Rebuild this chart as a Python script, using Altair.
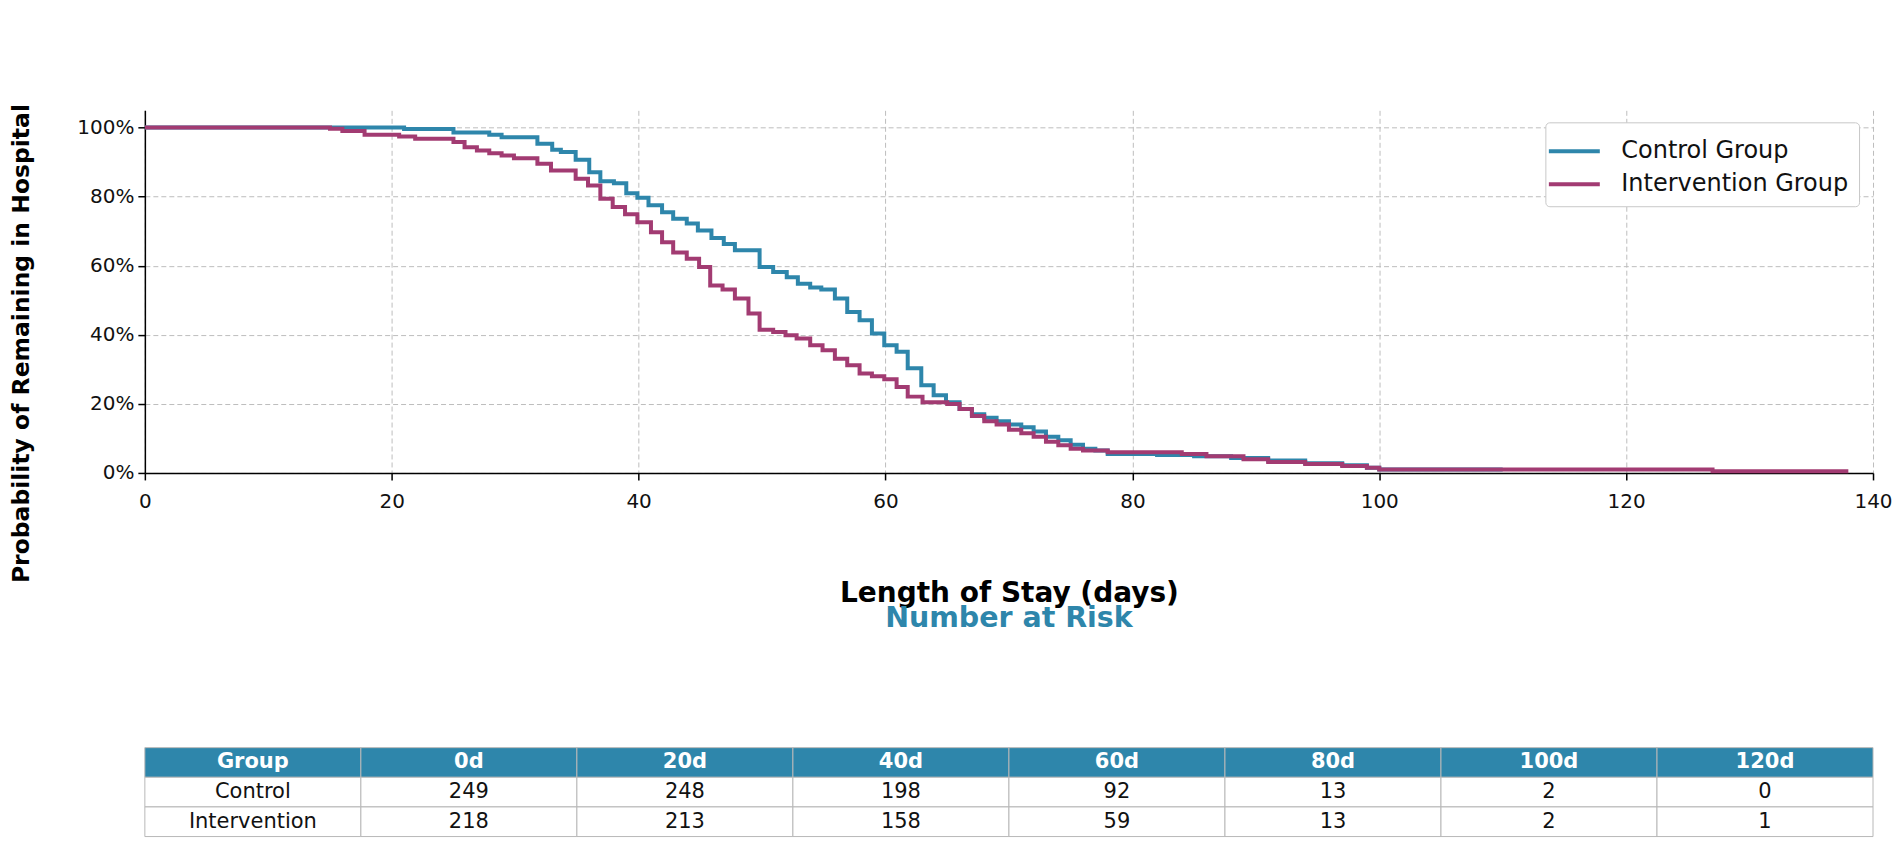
import altair as alt
import pandas as pd

BLUE = "#2E86AB"
MAG = "#A23B72"
FONT = "DejaVu Sans"

# Kaplan-Meier style step data (day, % remaining)
ctrl_days = [0, 21, 25, 27.9, 28.9, 31.8, 33, 33.7, 34.9, 36, 36.9, 38, 39, 39.9, 40.8, 41.9, 42.8, 43.9,
             44.8, 45.9, 46.9, 47.8, 49.8, 50.9, 52, 52.9, 53.9, 54.8, 55.9, 56.9, 57.9, 58.9, 59.9, 60.9,
             61.8, 62.9, 63.9, 64.9, 66, 67, 68, 69, 70, 71, 72, 73, 74, 75, 76, 77, 78, 82, 85, 88, 91,
             94, 97, 99, 100, 110]
ctrl_surv = [100, 99.6, 98.6, 97.9, 97.2, 95.3, 93.6, 92.9, 90.7, 87.1, 84.5, 83.9, 81.0, 79.7, 77.5, 75.5,
             73.6, 72.2, 70.2, 68.0, 66.3, 64.5, 59.6, 58.2, 56.7, 54.8, 53.7, 53.1, 50.5, 46.6, 44.2, 40.4,
             37.0, 35.1, 30.3, 25.4, 22.5, 20.5, 18.5, 17.0, 16.0, 15.0, 14.0, 13.2, 12.0, 10.5, 9.5, 8.2,
             7.0, 6.5, 5.5, 5.2, 4.8, 4.3, 3.6, 2.8, 2.2, 1.5, 1.0, 1.0]

int_days = [0, 15, 16, 17.8, 20.6, 21.9, 25, 25.9, 26.9, 27.9, 28.9, 29.9, 31.8, 32.9, 34.9, 35.9, 36.9,
            37.9, 38.9, 39.9, 41, 41.9, 42.8, 43.9, 44.9, 45.8, 46.8, 47.8, 48.9, 49.8, 50.9, 51.9, 52.8,
            53.9, 54.9, 55.9, 56.9, 57.9, 58.9, 59.9, 60.9, 61.8, 63, 65, 66, 67, 68, 69, 70, 71, 72, 73,
            74, 75, 76, 78, 84, 86, 89, 91, 94, 97, 99, 100, 127, 138]
int_surv = [100, 99.7, 99.0, 97.9, 97.4, 96.8, 95.8, 94.3, 93.4, 92.6, 91.9, 91.1, 89.5, 87.6, 85.2, 83.2,
            79.4, 77.0, 74.9, 72.6, 69.7, 66.8, 63.8, 62.0, 59.6, 54.3, 53.1, 50.5, 46.2, 41.5, 40.8, 39.9,
            38.9, 37.0, 35.5, 33.1, 31.2, 28.8, 28.0, 27.1, 24.9, 22.1, 20.5, 20.0, 18.5, 16.5, 15.0, 14.0,
            12.5, 11.5, 10.5, 9.0, 8.0, 7.0, 6.5, 6.0, 5.5, 4.8, 4.0, 3.2, 2.6, 2.0, 1.5, 1.0, 0.5, 0.5]

groups = ["Control Group", "Intervention Group"]

x_ticks = [0, 20, 40, 60, 80, 100, 120, 140]
y_ticks = [0, 0.2, 0.4, 0.6, 0.8, 1.0]

# Number at risk table
tbl_cols = ["Group", "0d", "20d", "40d", "60d", "80d", "100d", "120d"]
control_row = ["Control", "249", "248", "198", "92", "13", "2", "0"]
interv_row = ["Intervention", "218", "213", "158", "59", "13", "2", "1"]
tbl_rows = ["header", "control", "intervention"]

km = pd.DataFrame(
    [{"day": d, "surv": s / 100.0, "group": groups[0]} for d, s in zip(ctrl_days, ctrl_surv)]
    + [{"day": d, "surv": s / 100.0, "group": groups[1]} for d, s in zip(int_days, int_surv)]
)

recs = []
for c in tbl_cols:
    recs.append({"row": "header", "col": c, "text": c})
for c, v in zip(tbl_cols, control_row):
    recs.append({"row": "control", "col": c, "text": v})
for c, v in zip(tbl_cols, interv_row):
    recs.append({"row": "intervention", "col": c, "text": v})
tbl = pd.DataFrame(recs)

color_scale = alt.Scale(domain=groups, range=[BLUE, MAG])

base = alt.Chart(km).mark_line(interpolate="step-after", strokeWidth=4).encode(
    x=alt.X("day:Q", scale=alt.Scale(domain=[0, 140], nice=False),
            axis=alt.Axis(values=x_ticks, title="Length of Stay (days)", format="d",
                          titleFontSize=28, titleFontWeight="bold", titleColor="black",
                          titleY=121, titleBaseline="middle", labelPadding=12,
                          labelFlush=False)),
    y=alt.Y("surv:Q", scale=alt.Scale(domain=[0, 1.05], nice=False),
            axis=alt.Axis(values=y_ticks, format=".0%", title="Probability of Remaining in Hospital",
                          titleFontSize=23.5, titleFontWeight="bold", titleColor="black",
                          titleAngle=270, titleX=-123, titleY=233, titleBaseline="middle",
                          titleAlign="center", labelPadding=4)),
    color=alt.Color("group:N", scale=color_scale, sort=groups,
                    legend=alt.Legend(orient="none", legendX=1402, legendY=12, title=None,
                                      symbolType="M-1.5,0L1.5,0", symbolSize=1156,
                                      symbolStrokeWidth=4, labelFontSize=24, labelFont=FONT,
                                      labelColor="#111111", labelOffset=28, labelLimit=500,
                                      padding=10, rowPadding=2, fillColor="white",
                                      strokeColor="#c8c8c8", cornerRadius=4)),
)
ctrl_layer = base.transform_filter(alt.datum.group == groups[0])
int_layer = base.transform_filter(alt.datum.group == groups[1])
km_chart = alt.layer(ctrl_layer, int_layer).properties(width=1730, height=363)

xs = alt.X("col:N", sort=tbl_cols, axis=None, scale=alt.Scale(paddingInner=0, paddingOuter=0))
ys = alt.Y("row:N", sort=tbl_rows, axis=None, scale=alt.Scale(paddingInner=0, paddingOuter=0))

cells = alt.Chart(tbl).mark_rect(stroke="#b8b8b8", strokeWidth=1).encode(
    x=xs, y=ys,
    fill=alt.condition(alt.datum.row == "header", alt.value(BLUE), alt.value("white")),
)
hdr_text = alt.Chart(tbl).transform_filter(alt.datum.row == "header").mark_text(
    fontWeight="bold", color="white", fontSize=21, font=FONT
).encode(x=xs, y=ys, text="text:N")
body_text = alt.Chart(tbl).transform_filter(alt.datum.row != "header").mark_text(
    color="#111111", fontSize=21, font=FONT
).encode(x=xs, y=ys, text="text:N")

table_chart = alt.layer(cells, hdr_text, body_text).properties(
    width=1730, height=89,
    title=alt.TitleParams("Number at Risk", fontSize=28.5, fontWeight="bold", color=BLUE,
                          anchor="middle", offset=115, font=FONT),
)

chart = alt.vconcat(km_chart, table_chart, spacing=275, bounds="flush").properties(
    padding={"left": 1, "top": 95, "right": 0, "bottom": 0}
).configure(font=FONT, background="white").configure_view(stroke=None).configure_axis(
    domainColor="black", domainWidth=1.5, tickColor="black", tickSize=7, tickWidth=1.5,
    labelFontSize=20, labelFont=FONT, labelColor="#111111", titleFont=FONT,
    grid=True, gridDash=[5, 3], gridColor="#bdbdbd", gridWidth=1,
)

chart.save("out.html", embed_options={"renderer": "svg", "actions": False})
